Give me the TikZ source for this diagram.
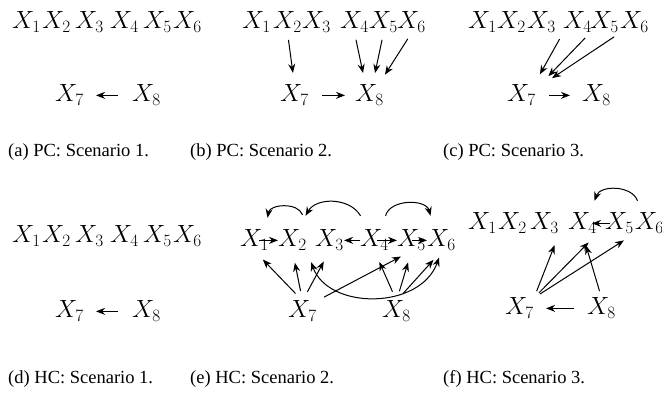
\documentclass[tikz,border=0pt]{standalone}
\usepackage{fontspec}
\newfontfamily\capfont{Liberation Serif}
\usetikzlibrary{arrows.meta}
\begin{document}
\begin{tikzpicture}[x=1pt,y=-1pt,
  v/.style={inner sep=0pt, anchor=base west, font=\fontsize{24.5}{28}\selectfont},
  captext/.style={inner sep=0pt, anchor=base west, font=\capfont\fontsize{18.5}{22}\selectfont},
  tip/.style={-{Stealth[length=9pt,width=7pt]}, line width=1pt},
  arr/.style={tip, shorten >=12pt, shorten <=7pt},
  harr/.style={tip},
  bow/.style={tip}]
\useasboundingbox (0,0) rectangle (662,398);
% ---------- (a)
\node[v] (a1) at (12,29) {$X_1$};
\node[v] (a2) at (42,29) {$X_2$};
\node[v] (a3) at (75,29) {$X_3$};
\node[v] (a4) at (110,29) {$X_4$};
\node[v] (a5) at (143,29) {$X_5$};
\node[v] (a6) at (173,29) {$X_6$};
\node[v] (a7) at (55,102) {$X_7$};
\node[v] (a8) at (132,102) {$X_8$};
\draw[harr, shorten <=14pt, shorten >=12pt] (a8.west) -- (a7.east);
% ---------- (b)
\node[v] (b1) at (242,29) {$X_1$};
\node[v] (b2) at (273,29) {$X_2$};
\node[v] (b3) at (302,29) {$X_3$};
\node[v] (b4) at (340,29) {$X_4$};
\node[v] (b5) at (369,29) {$X_5$};
\node[v] (b6) at (397,29) {$X_6$};
\node[v] (b7) at (280,102) {$X_7$};
\node[v] (b8) at (355,102) {$X_8$};
\draw[arr] (b2.south) -- (b7.north);
\draw[arr] (b4.south) -- ([xshift=-4pt]b8.north);
\draw[arr] (b5.south) -- ([xshift=3pt]b8.north);
\draw[arr] (b6.south) -- ([xshift=9pt]b8.north);
\draw[harr, shorten <=13pt, shorten >=10pt] (b7.east) -- (b8.west);
% ---------- (c)
\node[v] (c1) at (468,29) {$X_1$};
\node[v] (c2) at (497,29) {$X_2$};
\node[v] (c3) at (527,29) {$X_3$};
\node[v] (c4) at (563,29) {$X_4$};
\node[v] (c5) at (590,29) {$X_5$};
\node[v] (c6) at (620,29) {$X_6$};
\node[v] (c7) at (507,102) {$X_7$};
\node[v] (c8) at (582,102) {$X_8$};
\draw[arr] (c4.south west) -- ([xshift=-2pt]c7.north east);
\draw[arr] (c5.south west) -- ([xshift=4pt]c7.north east);
\draw[arr] (c6.south west) -- ([xshift=6pt]c7.north east);
\draw[harr, shorten <=13pt, shorten >=12pt] (c7.east) -- (c8.west);
% ---------- captions row 1
\node[captext] (capa) at (8,157) {(a) PC: Scenario 1.};
\node[captext] (capb) at (190,157) {(b) PC: Scenario 2.};
\node[captext] (capc) at (443,157) {(c) PC: Scenario 3.};
% ---------- (d)
\node[v] (d1) at (12,243) {$X_1$};
\node[v] (d2) at (42,243) {$X_2$};
\node[v] (d3) at (75,243) {$X_3$};
\node[v] (d4) at (110,243) {$X_4$};
\node[v] (d5) at (143,243) {$X_5$};
\node[v] (d6) at (173,243) {$X_6$};
\node[v] (d7) at (55,318) {$X_7$};
\node[v] (d8) at (132,318) {$X_8$};
\draw[harr, shorten <=14pt, shorten >=12pt] (d8.west) -- (d7.east);
% ---------- (e)
\node[v] (e1) at (240,247) {$X_1$};
\node[v] (e2) at (278,247) {$X_2$};
\node[v] (e3) at (315,247) {$X_3$};
\node[v] (e4) at (360,247) {$X_4$};
\node[v] (e5) at (397,247) {$X_5$};
\node[v] (e6) at (427,247) {$X_6$};
\node[v] (e7) at (288,318) {$X_7$};
\node[v] (e8) at (382,318) {$X_8$};
\draw[harr] ([xshift=-10pt]e1.east) -- (e2.west);
\draw[harr] (e4.west) -- (e3.east);
\draw[harr] ([xshift=-12pt]e4.east) -- (e5.west);
\draw[harr] ([xshift=-14pt]e5.east) -- (e6.west);
\draw[bow] ([xshift=10pt,yshift=15pt]e2.north) to[bend right=75] ([xshift=13pt,yshift=12pt]e1.north);
\draw[bow] ([xshift=-14pt,yshift=14pt]e4.north) to[bend right=60] ([xshift=13pt,yshift=14pt]e2.north);
\draw[bow] ([xshift=11pt,yshift=14pt]e4.north) to[bend left=75] ([xshift=-11pt,yshift=14pt]e6.north);
\draw[arr, shorten <=10pt] (e7.north) -- (e1.south);
\draw[arr, shorten <=10pt] (e7.north) -- (e2.south);
\draw[arr, shorten <=10pt] (e7.north) -- (e3.south);
\draw[arr, shorten <=8pt] (e7.north east) -- (e5.south);
\draw[arr, shorten <=10pt] (e8.north) -- (e4.south);
\draw[arr, shorten <=10pt] (e8.north) -- (e5.south);
\draw[arr, shorten <=10pt] (e8.north) -- (e6.south);
\draw[arr, {Stealth[length=9pt,width=7pt]}-{Stealth[length=9pt,width=7pt]}] (e6.south) to[out=-110,in=-70,looseness=1.2] (e2.south east);
% ---------- (f)
\node[v] (f1) at (468,230) {$X_1$};
\node[v] (f2) at (498,230) {$X_2$};
\node[v] (f3) at (530,230) {$X_3$};
\node[v] (f4) at (568,230) {$X_4$};
\node[v] (f5) at (605,230) {$X_5$};
\node[v] (f6) at (635,230) {$X_6$};
\node[v] (f7) at (505,315) {$X_7$};
\node[v] (f8) at (587,315) {$X_8$};
\draw[harr] ([xshift=5pt]f5.west) -- ([xshift=-5pt]f4.east);
\draw[bow] ([xshift=-12pt,yshift=12pt]f6.north) to[bend right=70] ([xshift=12pt,yshift=12pt]f4.north);
\draw[arr] (f7.north east) -- (f3.south east);
\draw[arr] (f7.north east) -- (f4.south east);
\draw[arr] (f7.north east) -- (f5.south east);
\draw[arr] (f8.north) -- (f4.south);
\draw[harr, shorten <=13pt, shorten >=12pt] (f8.west) -- (f7.east);
% ---------- captions row 2
\node[captext] (capd) at (8,383) {(d) HC: Scenario 1.};
\node[captext] (cape) at (190,383) {(e) HC: Scenario 2.};
\node[captext] (capf) at (443,383) {(f) HC: Scenario 3.};
\end{tikzpicture}
\end{document}
